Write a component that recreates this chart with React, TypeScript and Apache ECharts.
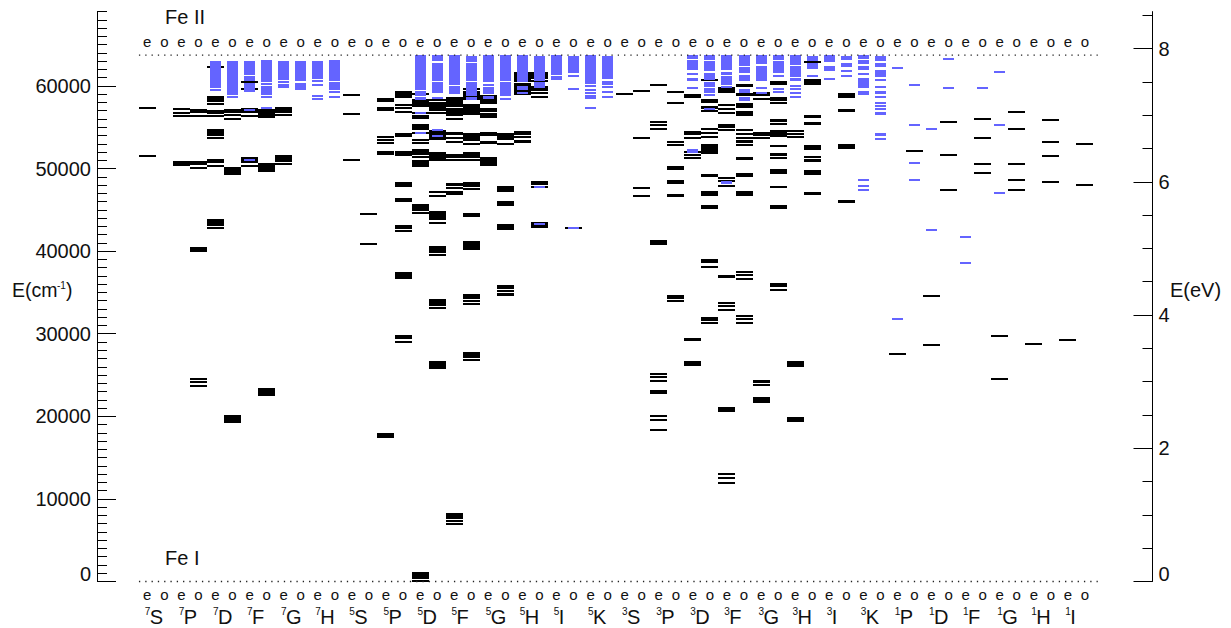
import React, { useEffect, useRef } from "react";
import * as echarts from "echarts";

type Level = number | [number, number];

const multiplicities = ["7","7","7","7","7","7","5","5","5","5","5","5","5","5","3","3","3","3","3","3","3","3","1","1","1","1","1","1"];
const orbitals = ["S","P","D","F","G","H","S","P","D","F","G","H","I","K","S","P","D","F","G","H","I","K","P","D","F","G","H","I"];
const parities = ["e","o"];

const cmTicksMajor = [0,10000,20000,30000,40000,50000,60000];
const cmTicksMinor = Array.from({length:70},(_, i)=>i*1000).filter(v=>v%10000!==0);
const evTicksMajor = [0,2,4,6,8];
const evTicksMinor = [0.5,1,1.5,2.5,3,3.5,4.5,5,5.5,6.5,7,7.5,8.5];
const cmMax = 69000;
const evMax = 69000/8065.54;
const feIILimit = 63737;
const feILimit = 0;

const feIEven: Level[][] = [
  [57330,51520],
  [57200,56760,56320,[50350,50870]],
  [62250,[58095,58740],57850,[56600,57045],56360,[53980,54745],53740,[50710,51150],50345,[43040,43890],42800],
  [60520,59590,[56680,57330],56400,[50670,51395],50345],
  [[56680,57450],56440,[50790,51600],50590],
  [],
  [58900,56600,51030],
  [[58095,58540],[57000,57450],53858,53454,53090,[51640,52080],[17370,17980]],
  [59040,[57490,58420],[56600,56845],[56000,56480],[54665,55390],54340,53500,53090,[51640,52365],51355,[50230,51030],[44860,45710],44650,[300,1150],50],
  [[57490,58660],[56360,57290],56000,[54060,54425],53700,53180,[51315,51760],51070,[47925,48250],47640,47200,46890,[7570,8290],7345,6960],
  [[57810,58900],[56845,57330],[56120,56720],[53900,54425],[52970,53330],[50305,51395]],
  [[60480,61685],[58900,60355],[54060,54545],53840,[53090,53450]],
  [],
  [],
  [59020],
  [60150,55630,55270,54785,[40740,41345],25120,24760,24270,[22700,23183],20030,19550,18340],
  [[58540,59020],54420,54140,53740,[51880,52120],[51520,51760],[51150,51395],[29115,29480],[26090,26690]],
  [[59145,59870],57690,57210,56720,[54905,55390],54665,48850,48490,47880,[36744,37110],33700,33350,32870,[20520,21125],13010,12530,11925],
  [[58780,59265],58420,[53940,54425],53700,[24030,24395],[23670,23910],[21610,22335]],
  [54545,54180,53820,[25970,26690],[19310,19910]],
  [],
  [],
  [27540],
  [34565,28630],
  [],
  [29720,24515],
  [28800],
  [29290],
];

const feIOdd: Level[][] = [
  [],
  [[56680,57200],56400,[50460,50860],50060,[39890,40460],24520,24150,23670],
  [[56680,57200],56480,56000,[49260,50185],[19230,20160]],
  [[56120,57200],[49580,50630],[22460,23430]],
  [],
  [],
  [44500,40900],
  [[58780,59350],58620,57730,57370,56880,[53820,54300],[51550,52120],[47760,48370],[45950,46430],[42640,43160],42430,[36900,37470],36725,[29360,29840],29000],
  [58340,[57000,58015],56720,[53450,54665],[50910,52000],47140,46670,[43770,44860],43400,[39770,40620],39530,[33350,34200],33110,[25730,26700]],
  [59630,[58300,59385],[56480,57810],[53330,54300],53030,[51270,52000],50990,[47760,48370],47520,[44130,44620],[40130,41220],[34200,34800],33960,33600,[27060,27790],26820],
  [[53450,54300],52970,[47160,47885],[45460,46070],[42555,43280],[35410,35900],35170,[34565,34930]],
  [[60840,61685],60600,[59430,60000],59145,58660,[48000,48490],47760,[42800,43525]],
  [42800],
  [],
  [59430,53740,47600,46650],
  [59265,57935,53210,52850,[49820,50305],[48125,48610],[46550,46915],[34200,34685],33960],
  [60720,[57935,58420],[57250,57570],56965,54785,54300,53820,[51760,52970],[48975,49340],[46670,47280],[45100,45600],[38560,39045],38080,[31540,32020],31295],
  [[59870,60235],[58780,59145],[57330,57935],[56360,56965],54665,54180,53700,[53090,53450],52850,[51030,51395],[48975,49460],[46670,47280],37470,37110,36620,32140,31780,31295],
  [[60115,60600],[58175,58660],57930,[55630,56000],55390,[53820,54665],52730,[51520,51880],51270,[49340,49945],47760,[45100,45600],[35650,36140],35290],
  [62900,[60115,60840],[56120,56480],[55270,55630],[52240,52850],51395,[50790,51150],[49215,49820],[46795,47160]],
  [[58540,59145],[56845,57210],[52365,52970],[45825,46190]],
  [],
  [52160],
  [55630,51640,47400],
  [56000,53700,50550,49460],
  [56840,54785,50550,48610,47400],
  [55875,53210,51520,48370],
  [52970,48000],
];

const feIIEven: Level[][] = [
  [],
  [],
  [[59790,63020],59530],
  [[61325,63020],[60640,61200],[59300,60350],[57000,57200],[50910,51150]],
  [[60720,63020],60500,[59750,60275]],
  [[60880,63020],60640,[60000,60230],58780,58420],
  [],
  [],
  [[59510,63746],[58780,59385],[58300,58660],[56600,56845],[54180,54425]],
  [[60115,63746],[59020,59990]],
  [[60480,63746],60115,[59020,59870],[58420,58780]],
  [[60480,63746],[59510,60000],[59020,59270]],
  [[61325,63746],[60720,61200]],
  [[60235,63746],59990,59510,59145,[58420,58900],57330],
  [],
  [],
  [[63220,63746],[61930,63140],61445,[60600,60960],59750,[51880,52365]],
  [[61930,63746],[61325,61685],[60115,61200],59870,[48125,48490]],
  [[62655,63746],[60600,62415],59750,59145],
  [[62535,63746],[61080,62415],[60600,60960],59990,59630,59145,58660],
  [[62900,63746],[61805,62415],60840],
  [[63260,63746],[62655,63140],[61930,62415],61445,[59750,60960],[58900,59390],48610,47880,47400],
  [62170,31780],
  [54785,42556],
  [41708,38560],
  [61690,55270,47040],
  [],
  [],
];

const feIIOdd: Level[][] = [
  [],
  [],
  [[58900,63020],58660],
  [[60520,63140],60210,[58900,59950],58680,57330],
  [[60600,63020],[59500,60355]],
  [[60600,63140],[59500,60440],59290,58660],
  [],
  [],
  [[63020,63746],[60600,62780],[59185,60440],58540,54665,53940],
  [[62900,63620],[60600,62780],[58780,60440],[58300,58660]],
  [[60600,63746],[58780,60440],58420],
  [[60600,63620],[59750,60480],47760,[43160,43400]],
  [[61565,63620],61200,59630,42800],
  [[60840,63620],[60115,60600],59870,59270,58660],
  [],
  [],
  [[63140,63746],[61805,63020],[60720,61565],[59870,60480],[59145,59750],[58780,59020],57210],
  [[62415,63746],[61565,62290],[60600,61325],[59145,59630],[58175,58660]],
  [[63140,63746],[61565,63020],61200,59630,59270],
  [[63020,63620],[62050,62780],61200],
  [[63140,63625],[62290,62780],61800,61200],
  [[63020,63625],[62290,62780],[61080,61930],60720,59870,[59020,59390],58660,57930,57570,57210,[56480,56845],[53940,54300],53575],
  [60115,55230,50670,48610],
  [63260,59750],
  [59750],
  [],
  [],
  [],
];

const FONT = "'Liberation Sans', Arial, Helvetica, sans-serif";
const INK = "#111";

function levelRows(even: Level[][], odd: Level[][]) {
  const rows: number[][] = [];
  const add = (list: Level[], col: number) => {
    list.forEach((l) => {
      if (Array.isArray(l)) rows.push([col, l[0], l[1]]);
      else rows.push([col, l, l]);
    });
  };
  even.forEach((list, t) => add(list, 2 * t));
  odd.forEach((list, t) => add(list, 2 * t + 1));
  return rows;
}

function levelSeries(rows: number[][], color: string, widthRatio: number, z: number) {
  return {
    type: "custom",
    z,
    silent: true,
    data: rows,
    renderItem: (_p: any, api: any) => {
      const col = api.value(0);
      const lo = api.value(1);
      const hi = api.value(2);
      const colWidth = api.size([1, 0])[0];
      const w = Math.round(colWidth * widthRatio);
      const cx = api.coord([col, lo])[0];
      const yLo = api.coord([col, lo])[1];
      const yHi = api.coord([col, hi])[1];
      let top = Math.round(yHi);
      let bottom = Math.round(yLo);
      if (lo === hi) {
        top = Math.round(yHi - 1);
        bottom = top + 2;
      }
      return {
        type: "rect",
        shape: { x: Math.round(cx - w / 2), y: top, width: w, height: Math.max(bottom - top, 2) },
        style: { fill: color },
      };
    },
  };
}

function columnLabels(energy: number, dy: number) {
  const cols: number[][] = [];
  for (let c = 0; c < multiplicities.length * 2; c++) cols.push([c, energy]);
  return {
    type: "custom",
    silent: true,
    z: 10,
    data: cols,
    renderItem: (p: any, api: any) => {
      const pt = api.coord([api.value(0), api.value(1)]);
      return {
        type: "text",
        style: {
          text: parities[p.dataIndex % 2],
          x: pt[0],
          y: pt[1] + dy,
          align: "center",
          verticalAlign: "middle",
          fontFamily: FONT,
          fontSize: 15,
          fill: INK,
        },
      };
    },
  };
}

function termLabels() {
  return {
    type: "custom",
    silent: true,
    z: 10,
    data: orbitals.map((_, t) => [2 * t, feILimit]),
    renderItem: (p: any, api: any) => {
      const pt = api.coord([api.value(0), api.value(1)]);
      return {
        type: "group",
        children: [
          {
            type: "text",
            style: {
              text: multiplicities[p.dataIndex],
              x: pt[0] - 2.6,
              y: pt[1] + 29.5,
              align: "left",
              verticalAlign: "middle",
              fontFamily: FONT,
              fontSize: 10,
              fill: INK,
            },
          },
          {
            type: "text",
            style: {
              text: orbitals[p.dataIndex],
              x: pt[0] + 2.4,
              y: pt[1] + 35,
              align: "left",
              verticalAlign: "middle",
              fontFamily: FONT,
              fontSize: 20,
              fill: INK,
            },
          },
        ],
      };
    },
  };
}

function dottedLine(energy: number) {
  return {
    type: "line",
    z: 9,
    silent: true,
    clip: false,
    showSymbol: false,
    symbol: "none",
    data: [[-0.49, energy], [55.75, energy]],
    lineStyle: { color: "#222", width: 1.3, type: [1.3, 5] },
  };
}

const labelFont = { fontFamily: FONT, fontSize: 20, color: INK };
const axisLine = { show: true, onZero: false, lineStyle: { color: "#000", width: 1 } };

function sideAxes(position: string, max: number, major: number[], minor: number[], min = 0) {
  return [
    {
      type: "value",
      position,
      min,
      max,
      interval: major[1] - major[0],
      splitLine: { show: false },
      axisLine,
      axisTick: {
        show: true,
        inside: true,
        length: 19,
        customValues: major,
        lineStyle: { color: "#000", width: 1 },
      },
      axisLabel: {
        show: true,
        ...labelFont,
        margin: 6,
        lineHeight: 15,
        customValues: major,
        verticalAlignMinLabel: "bottom",
        showMaxLabel: true,
        formatter: (v: number) => String(v),
      },
    },
    {
      type: "value",
      position,
      min,
      max,
      interval: major[1] - major[0],
      splitLine: { show: false },
      axisLine: { show: false, onZero: false },
      axisLabel: { show: false },
      axisTick: {
        show: true,
        inside: true,
        length: 10,
        customValues: minor,
        lineStyle: { color: "#000", width: 1 },
      },
    },
  ];
}

export default function App() {
  const ref = useRef<HTMLDivElement>(null);
  useEffect(() => {
    document.body.style.margin = "0";
    const chart = echarts.init(ref.current!, undefined, { renderer: "svg" });
    const txt = (text: string, x: number, y: number, fontSize: number, extra: any = {}) => ({
      type: "text",
      z: 20,
      silent: true,
      x,
      y,
      style: { text, fontFamily: FONT, fontSize, fill: INK, verticalAlign: "middle", ...extra },
    });
    chart.setOption({
      animation: false,
      backgroundColor: "#fff",
      grid: { left: 97, right: 78.5, top: 11.6, bottom: 46.5, containLabel: false },
      xAxis: { type: "value", min: -2.95, max: 58.96, show: false },
      yAxis: [
        ...sideAxes("left", cmMax, cmTicksMajor, cmTicksMinor),
        ...sideAxes("right", evMax, evTicksMajor, evTicksMinor),
      ],
      series: [
        levelSeries(levelRows(feIEven, feIOdd), "#000", 1, 2),
        levelSeries(levelRows(feIIEven, feIIOdd), "#6464ff", 0.65, 3),
        dottedLine(feIILimit),
        dottedLine(feILimit),
        columnLabels(feIILimit, -14),
        columnLabels(feILimit, 12.5),
        termLabels(),
      ],
      graphic: [
        txt("Fe II", 165, 16.5, 20),
        txt("Fe I", 165, 558, 20),
        txt("E(cm", 12, 290, 19.5),
        txt("-1", 57, 285, 10),
        txt(")", 66, 290, 19.5),
        txt("E(eV)", 1170, 290, 20),
      ],
    });
    return () => chart.dispose();
  }, []);
  return <div ref={ref} style={{ position: "fixed", left: 0, top: 0, width: 1231, height: 628 }} />;
}
